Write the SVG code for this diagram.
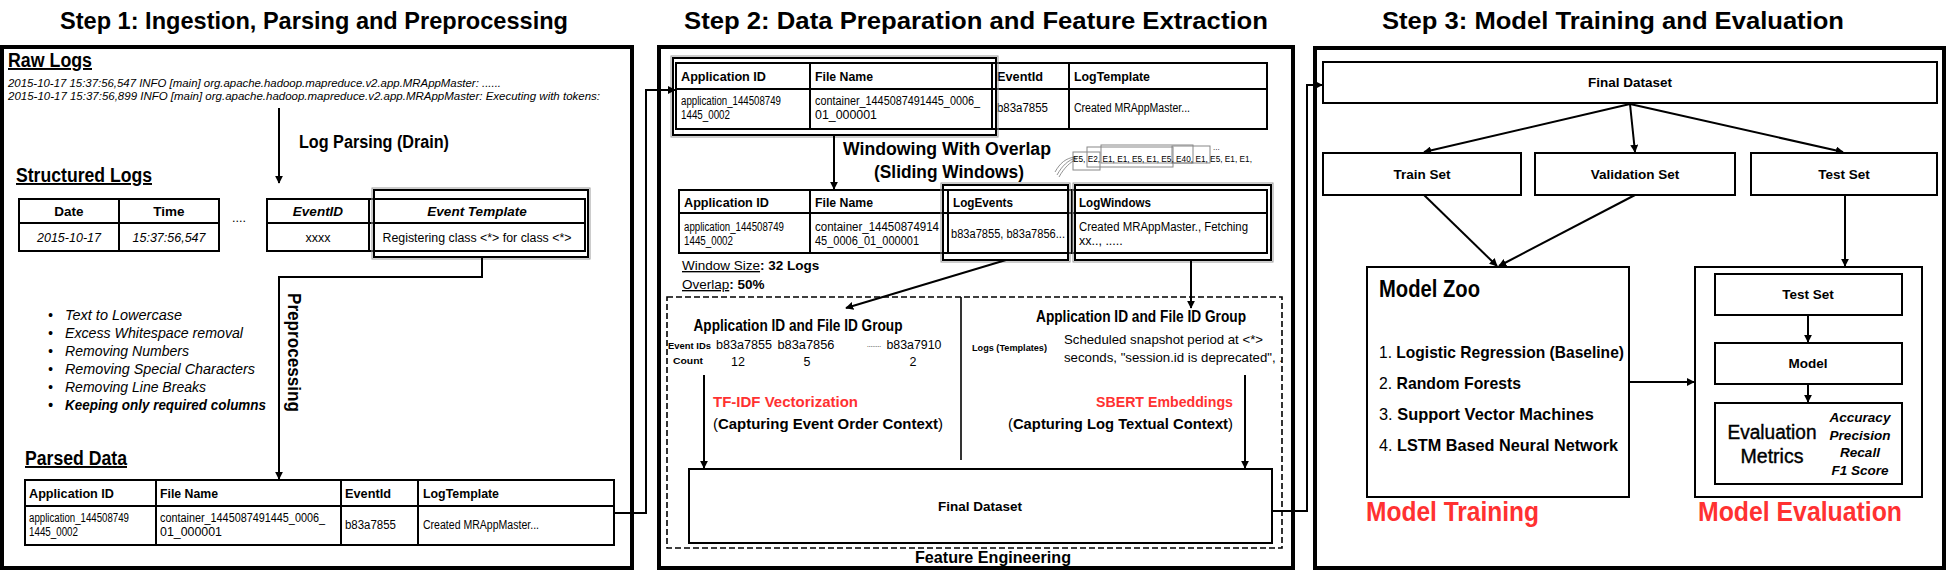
<svg xmlns="http://www.w3.org/2000/svg" width="1947" height="573" viewBox="0 0 1947 573">
<defs>
<marker id="ah" viewBox="0 0 10 10" refX="9" refY="5" markerWidth="8" markerHeight="8" markerUnits="userSpaceOnUse" orient="auto"><path d="M0,0 L10,5 L0,10 z" fill="#000"/></marker>
<style>
text{font-family:"Liberation Sans",Arial,sans-serif;fill:#000}
.frame{fill:#fff;stroke:#000;stroke-width:4}
.box{fill:#fff;stroke:#000;stroke-width:2}
.ov{fill:none;stroke:#000;stroke-width:2}
.ovg{fill:none;stroke:#9a9a9a;stroke-width:1}
.ln{fill:none;stroke:#000;stroke-width:2}
.conn{fill:none;stroke:#000;stroke-width:2}
.thin{fill:none;stroke:#000;stroke-width:1.6}
.dash{fill:none;stroke:#000;stroke-width:1.6;stroke-dasharray:6 3}
.gbox{fill:none;stroke:#888;stroke-width:1}
.title{font-size:24px;font-weight:bold}
.sec{font-size:19.5px;font-weight:bold;text-decoration:underline}
.log{font-size:10.5px;font-style:italic}
.lbl{font-size:18px;font-weight:bold}
.th{font-size:13px;font-weight:bold}
.td{font-size:12.5px}
.bul{font-size:14px;font-style:italic}
.b{font-weight:bold}
.n{font-weight:normal}
.red{fill:#ff3131}
.grp{font-size:16px;font-weight:bold}
.tiny{font-size:8.5px;font-weight:bold}
.sm{font-size:12.5px}
.ctx{font-size:15px;font-weight:bold}
.bt{font-size:13.5px;font-weight:bold}
.item{font-size:17px}
.big{font-size:27px;font-weight:bold}
.met{font-size:13.5px;font-weight:bold;font-style:italic}
</style>
</defs>
<rect x="0" y="0" width="1947" height="573" fill="#fff"/>

<!-- Titles -->
<g id="titles">
<text class="title" x="314" y="29" text-anchor="middle" textLength="508" lengthAdjust="spacingAndGlyphs">Step 1: Ingestion, Parsing and Preprocessing</text>
<text class="title" x="976" y="29" text-anchor="middle" textLength="584" lengthAdjust="spacingAndGlyphs">Step 2:  Data Preparation and Feature Extraction</text>
<text class="title" x="1613" y="29" text-anchor="middle" textLength="462" lengthAdjust="spacingAndGlyphs">Step 3:  Model Training and Evaluation</text>
</g>

<!-- Step frames -->
<g id="step1-frame"><rect class="frame" x="2" y="47" width="630" height="521"/></g>
<g id="step2-frame"><rect class="frame" x="659" y="47" width="634" height="521"/></g>
<g id="step3-frame"><rect class="frame" x="1315" y="48" width="629" height="520"/></g>

<!-- STEP 1 -->
<g id="raw-logs">
<text class="sec" x="8" y="67" textLength="84" lengthAdjust="spacingAndGlyphs">Raw Logs</text>
<text class="log" x="8" y="87" textLength="493" lengthAdjust="spacingAndGlyphs">2015-10-17 15:37:56,547 INFO [main] org.apache.hadoop.mapreduce.v2.app.MRAppMaster: ......</text>
<text class="log" x="8" y="100" textLength="592" lengthAdjust="spacingAndGlyphs">2015-10-17 15:37:56,899 INFO [main] org.apache.hadoop.mapreduce.v2.app.MRAppMaster: Executing with tokens:</text>
</g>
<g id="log-parsing-label">
<text class="lbl" x="299" y="148" textLength="150" lengthAdjust="spacingAndGlyphs">Log Parsing (Drain)</text>
</g>
<g id="structured-logs">
<text class="sec" x="16" y="182" textLength="136" lengthAdjust="spacingAndGlyphs">Structured Logs</text>
<rect class="box" x="19" y="199" width="200" height="52"/>
<line class="ln" x1="19" y1="223" x2="219" y2="223"/>
<line class="ln" x1="119" y1="199" x2="119" y2="251"/>
<text class="bt" x="69" y="216" text-anchor="middle" font-size="14">Date</text>
<text class="bt" x="169" y="216" text-anchor="middle" font-size="14">Time</text>
<text class="sm" x="69" y="242" text-anchor="middle" font-style="italic">2015-10-17</text>
<text class="sm" x="169" y="242" text-anchor="middle" font-style="italic">15:37:56,547</text>
<text class="sm" x="232" y="222">....</text>
<rect class="box" x="267" y="199" width="318" height="52"/>
<line class="ln" x1="267" y1="223" x2="585" y2="223"/>
<line class="ln" x1="369" y1="199" x2="369" y2="251"/>
<text class="bt" x="318" y="216" text-anchor="middle" font-style="italic" font-size="14">EventID</text>
<text class="bt" x="477" y="216" text-anchor="middle" font-style="italic" font-size="14">Event Template</text>
<text class="sm" x="318" y="242" text-anchor="middle">xxxx</text>
<text class="sm" x="477" y="242" text-anchor="middle" textLength="189" lengthAdjust="spacingAndGlyphs">Registering class &lt;*&gt; for class &lt;*&gt;</text>
<rect class="ovg" x="372" y="188" width="218" height="71"/>
<rect class="ov" x="374" y="190" width="214" height="67"/>
</g>
<g id="preprocessing-label">
<text class="lbl" transform="translate(288,293) rotate(90)" x="0" y="0" textLength="119" lengthAdjust="spacingAndGlyphs">Preprocessing</text>
</g>
<g id="preprocessing-steps">
<text class="bul" x="48" y="320">•</text><text class="bul" x="65" y="320" textLength="117" lengthAdjust="spacingAndGlyphs">Text to Lowercase</text>
<text class="bul" x="48" y="338">•</text><text class="bul" x="65" y="338" textLength="178" lengthAdjust="spacingAndGlyphs">Excess Whitespace removal</text>
<text class="bul" x="48" y="356">•</text><text class="bul" x="65" y="356" textLength="124" lengthAdjust="spacingAndGlyphs">Removing Numbers</text>
<text class="bul" x="48" y="374">•</text><text class="bul" x="65" y="374" textLength="190" lengthAdjust="spacingAndGlyphs">Removing Special Characters</text>
<text class="bul" x="48" y="392">•</text><text class="bul" x="65" y="392" textLength="141" lengthAdjust="spacingAndGlyphs">Removing Line Breaks</text>
<text class="bul b" x="48" y="410">•</text><text class="bul b" x="65" y="410" textLength="201" lengthAdjust="spacingAndGlyphs">Keeping only required columns</text>
</g>
<g id="parsed-data">
<text class="sec" x="25" y="465" textLength="102" lengthAdjust="spacingAndGlyphs">Parsed Data</text>
<rect class="box" x="25" y="480" width="589" height="65"/>
<line class="ln" x1="25" y1="506" x2="614" y2="506"/>
<line class="ln" x1="156" y1="480" x2="156" y2="545"/>
<line class="ln" x1="341" y1="480" x2="341" y2="545"/>
<line class="ln" x1="418" y1="480" x2="418" y2="545"/>
<text class="th" x="29" y="498" textLength="85" lengthAdjust="spacingAndGlyphs">Application ID</text>
<text class="th" x="160" y="498" textLength="58" lengthAdjust="spacingAndGlyphs">File Name</text>
<text class="th" x="345" y="498" textLength="46" lengthAdjust="spacingAndGlyphs">EventId</text>
<text class="th" x="423" y="498" textLength="76" lengthAdjust="spacingAndGlyphs">LogTemplate</text>
<text class="td" x="29" y="522" textLength="100" lengthAdjust="spacingAndGlyphs">application_144508749</text>
<text class="td" x="29" y="536" textLength="49" lengthAdjust="spacingAndGlyphs">1445_0002</text>
<text class="td" x="160" y="522" textLength="165" lengthAdjust="spacingAndGlyphs">container_1445087491445_0006_</text>
<text class="td" x="160" y="536" textLength="62" lengthAdjust="spacingAndGlyphs">01_000001</text>
<text class="td" x="345" y="529" textLength="51" lengthAdjust="spacingAndGlyphs">b83a7855</text>
<text class="td" x="423" y="529" textLength="116" lengthAdjust="spacingAndGlyphs">Created MRAppMaster...</text>
</g>

<!-- STEP 2 -->
<g id="table-a">
<rect class="box" x="676" y="63" width="591" height="66"/>
<line class="ln" x1="676" y1="89" x2="1267" y2="89"/>
<line class="ln" x1="810" y1="63" x2="810" y2="129"/>
<line class="ln" x1="992" y1="63" x2="992" y2="129"/>
<line class="ln" x1="1069" y1="63" x2="1069" y2="129"/>
<text class="th" x="681" y="81" textLength="85" lengthAdjust="spacingAndGlyphs">Application ID</text>
<text class="th" x="815" y="81" textLength="58" lengthAdjust="spacingAndGlyphs">File Name</text>
<text class="th" x="997" y="81" textLength="46" lengthAdjust="spacingAndGlyphs">EventId</text>
<text class="th" x="1074" y="81" textLength="76" lengthAdjust="spacingAndGlyphs">LogTemplate</text>
<text class="td" x="681" y="105" textLength="100" lengthAdjust="spacingAndGlyphs">application_144508749</text>
<text class="td" x="681" y="119" textLength="49" lengthAdjust="spacingAndGlyphs">1445_0002</text>
<text class="td" x="815" y="105" textLength="165" lengthAdjust="spacingAndGlyphs">container_1445087491445_0006_</text>
<text class="td" x="815" y="119" textLength="62" lengthAdjust="spacingAndGlyphs">01_000001</text>
<text class="td" x="997" y="112" textLength="51" lengthAdjust="spacingAndGlyphs">b83a7855</text>
<text class="td" x="1074" y="112" textLength="116" lengthAdjust="spacingAndGlyphs">Created MRAppMaster...</text>
<rect class="ovg" x="671" y="56" width="327" height="81"/>
<rect class="ov" x="673" y="58" width="323" height="77"/>
</g>
<g id="windowing-label">
<text class="lbl" x="947" y="155" text-anchor="middle" font-size="20" textLength="208" lengthAdjust="spacingAndGlyphs">Windowing With Overlap</text>
<text class="lbl" x="949" y="178" text-anchor="middle" font-size="20" textLength="150" lengthAdjust="spacingAndGlyphs">(Sliding Windows)</text>
</g>
<g id="sliding-windows">
<rect class="gbox" x="1073" y="152" width="27" height="18"/>
<rect class="gbox" x="1087" y="147" width="86" height="20"/>
<rect class="gbox" x="1101" y="145" width="92" height="18"/>
<rect class="gbox" x="1172" y="146" width="38" height="17"/>
<path d="M1055,172 C1060,163 1066,158 1075,157 M1057,175 C1062,166 1068,160 1076,158 M1059,177 C1064,168 1070,162 1077,159" fill="none" stroke="#777" stroke-width="0.8"/>
<text x="1073" y="162" font-size="9" fill="#333" textLength="179" lengthAdjust="spacingAndGlyphs">E5, E2, E1, E1, E5, E1, E5, E40, E1, E5, E1, E1,</text>
<text x="1213" y="150" font-size="8" fill="#333">...</text>
</g>
<g id="table-b">
<rect class="box" x="679" y="190" width="588" height="63"/>
<line class="ln" x1="679" y1="213" x2="1267" y2="213"/>
<line class="ln" x1="810" y1="190" x2="810" y2="253"/>
<line class="ln" x1="948" y1="190" x2="948" y2="253"/>
<line class="ln" x1="1072" y1="190" x2="1072" y2="253"/>
<text class="th" x="684" y="207" textLength="85" lengthAdjust="spacingAndGlyphs">Application ID</text>
<text class="th" x="815" y="207" textLength="58" lengthAdjust="spacingAndGlyphs">File Name</text>
<text class="th" x="953" y="207" textLength="60" lengthAdjust="spacingAndGlyphs">LogEvents</text>
<text class="th" x="1079" y="207" textLength="72" lengthAdjust="spacingAndGlyphs">LogWindows</text>
<text class="td" x="684" y="231" textLength="100" lengthAdjust="spacingAndGlyphs">application_144508749</text>
<text class="td" x="684" y="245" textLength="49" lengthAdjust="spacingAndGlyphs">1445_0002</text>
<text class="td" x="815" y="231" textLength="124" lengthAdjust="spacingAndGlyphs">container_14450874914</text>
<text class="td" x="815" y="245" textLength="104" lengthAdjust="spacingAndGlyphs">45_0006_01_000001</text>
<text class="td" x="951" y="238" textLength="114" lengthAdjust="spacingAndGlyphs">b83a7855, b83a7856...</text>
<text class="td" x="1079" y="231" textLength="169" lengthAdjust="spacingAndGlyphs">Created MRAppMaster., Fetching</text>
<text class="td" x="1079" y="245">xx.., .....</text>
<rect class="ovg" x="941" y="183" width="129" height="79"/>
<rect class="ov" x="943" y="185" width="125" height="75"/>
<rect class="ovg" x="1073" y="183" width="200" height="79"/>
<rect class="ov" x="1075" y="185" width="196" height="75"/>
</g>
<g id="window-params">
<text x="682" y="270" font-size="13.5"><tspan text-decoration="underline">Window Size</tspan><tspan class="b">: 32 Logs</tspan></text>
<text x="682" y="289" font-size="13.5"><tspan text-decoration="underline">Overlap</tspan><tspan class="b">: 50%</tspan></text>
</g>
<g id="feature-engineering">
<rect class="dash" x="667" y="297" width="615" height="251"/>
<line class="thin" x1="961" y1="297" x2="961" y2="460"/>
<text x="993" y="563" text-anchor="middle" font-size="17" font-weight="bold" textLength="156" lengthAdjust="spacingAndGlyphs">Feature Engineering</text>
</g>
<g id="event-group">
<text class="grp" x="798" y="331" text-anchor="middle" textLength="209" lengthAdjust="spacingAndGlyphs">Application ID and File ID Group</text>
<text class="tiny" x="668" y="349" textLength="43" lengthAdjust="spacingAndGlyphs">Event IDs</text>
<text class="tiny" x="673" y="364" textLength="30" lengthAdjust="spacingAndGlyphs">Count</text>
<text class="sm" x="744" y="349" text-anchor="middle" textLength="56" lengthAdjust="spacingAndGlyphs">b83a7855</text>
<text class="sm" x="806" y="349" text-anchor="middle" textLength="57" lengthAdjust="spacingAndGlyphs">b83a7856</text>
<text x="867" y="347" font-size="7" textLength="14" lengthAdjust="spacingAndGlyphs">........</text>
<text class="sm" x="914" y="349" text-anchor="middle" textLength="55" lengthAdjust="spacingAndGlyphs">b83a7910</text>
<text class="sm" x="738" y="366" text-anchor="middle">12</text>
<text class="sm" x="807" y="366" text-anchor="middle">5</text>
<text class="sm" x="913" y="366" text-anchor="middle">2</text>
<text class="ctx red" x="713" y="407" textLength="145" lengthAdjust="spacingAndGlyphs">TF-IDF Vectorization</text>
<text class="ctx" x="713" y="429" textLength="230" lengthAdjust="spacingAndGlyphs"><tspan class="n">(</tspan>Capturing Event Order Context<tspan class="n">)</tspan></text>
</g>
<g id="log-group">
<text class="grp" x="1141" y="322" text-anchor="middle" textLength="210" lengthAdjust="spacingAndGlyphs">Application ID and File ID Group</text>
<text class="tiny" x="972" y="351" textLength="75" lengthAdjust="spacingAndGlyphs">Logs (Templates)</text>
<text x="1064" y="344" font-size="13" textLength="199" lengthAdjust="spacingAndGlyphs">Scheduled snapshot period at &lt;*&gt;</text>
<text x="1064" y="362" font-size="13" textLength="219" lengthAdjust="spacingAndGlyphs">seconds, "session.id is deprecated", .</text>
<text class="ctx red" x="1233" y="407" text-anchor="end" textLength="137" lengthAdjust="spacingAndGlyphs">SBERT Embeddings</text>
<text class="ctx" x="1233" y="429" text-anchor="end" textLength="225" lengthAdjust="spacingAndGlyphs"><tspan class="n">(</tspan>Capturing Log Textual Context<tspan class="n">)</tspan></text>
</g>
<g id="final-dataset-2">
<rect class="box" x="689" y="469" width="583" height="74"/>
<text class="bt" x="980" y="511" text-anchor="middle">Final Dataset</text>
</g>

<!-- STEP 3 -->
<g id="final-dataset-3">
<rect class="box" x="1323" y="62" width="614" height="41"/>
<text class="bt" x="1630" y="87" text-anchor="middle">Final Dataset</text>
</g>
<g id="train-set"><rect class="box" x="1323" y="153" width="198" height="42"/><text class="bt" x="1422" y="179" text-anchor="middle">Train Set</text></g>
<g id="validation-set"><rect class="box" x="1535" y="153" width="200" height="42"/><text class="bt" x="1635" y="179" text-anchor="middle">Validation Set</text></g>
<g id="test-set"><rect class="box" x="1751" y="153" width="186" height="42"/><text class="bt" x="1844" y="179" text-anchor="middle">Test Set</text></g>
<g id="model-zoo">
<rect class="box" x="1367" y="267" width="262" height="230"/>
<text x="1379" y="297" font-size="23" font-weight="bold" textLength="101" lengthAdjust="spacingAndGlyphs">Model Zoo</text>
<text class="item" x="1379" y="358" textLength="245" lengthAdjust="spacingAndGlyphs">1. <tspan class="b">Logistic Regression (Baseline)</tspan></text>
<text class="item" x="1379" y="389" textLength="142" lengthAdjust="spacingAndGlyphs">2. <tspan class="b">Random Forests</tspan></text>
<text class="item" x="1379" y="420" textLength="215" lengthAdjust="spacingAndGlyphs">3. <tspan class="b">Support Vector Machines</tspan></text>
<text class="item" x="1379" y="451" textLength="239" lengthAdjust="spacingAndGlyphs">4. <tspan class="b">LSTM Based Neural Network</tspan></text>
<text class="big red" x="1366" y="521" textLength="173" lengthAdjust="spacingAndGlyphs">Model Training</text>
</g>
<g id="model-evaluation">
<rect class="box" x="1695" y="267" width="227" height="230"/>
<text class="big red" x="1698" y="521" textLength="204" lengthAdjust="spacingAndGlyphs">Model Evaluation</text>
</g>
<g id="eval-test-set"><rect class="box" x="1715" y="274" width="187" height="41"/><text class="bt" x="1808" y="299" text-anchor="middle">Test Set</text></g>
<g id="eval-model"><rect class="box" x="1715" y="343" width="187" height="41"/><text class="bt" x="1808" y="368" text-anchor="middle">Model</text></g>
<g id="eval-metrics">
<rect class="box" x="1715" y="403" width="187" height="81"/>
<text x="1772" y="439" text-anchor="middle" font-size="20" textLength="89" lengthAdjust="spacingAndGlyphs" stroke="#000" stroke-width="0.4">Evaluation</text>
<text x="1772" y="463" text-anchor="middle" font-size="20" textLength="63" lengthAdjust="spacingAndGlyphs" stroke="#000" stroke-width="0.4">Metrics</text>
<text class="met" x="1860" y="422" text-anchor="middle">Accuracy</text>
<text class="met" x="1860" y="440" text-anchor="middle">Precision</text>
<text class="met" x="1860" y="457" text-anchor="middle">Recall</text>
<text class="met" x="1860" y="475" text-anchor="middle">F1 Score</text>
</g>

<!-- Connectors -->
<g id="connectors">
<path class="conn" d="M279,108 V183" marker-end="url(#ah)"/>
<path class="conn" d="M482,257 V277 H279 V479" marker-end="url(#ah)"/>
<path class="conn" d="M614,513 H646 V90 H675" marker-end="url(#ah)"/>
<path class="conn" d="M834,135 V189" marker-end="url(#ah)"/>
<path class="conn" d="M1006,260 L846,308" marker-end="url(#ah)"/>
<path class="conn" d="M1191,260 V308" marker-end="url(#ah)"/>
<path class="conn" d="M704,375 V468" marker-end="url(#ah)"/>
<path class="conn" d="M1245,375 V468" marker-end="url(#ah)"/>
<path class="conn" d="M1272,511 H1307 V85 H1322" marker-end="url(#ah)"/>
<path class="conn" d="M1630,104 L1424,152" marker-end="url(#ah)"/>
<path class="conn" d="M1630,104 L1635,152" marker-end="url(#ah)"/>
<path class="conn" d="M1630,104 L1843,152" marker-end="url(#ah)"/>
<path class="conn" d="M1424,195 L1497,266" marker-end="url(#ah)"/>
<path class="conn" d="M1635,195 L1499,266" marker-end="url(#ah)"/>
<path class="conn" d="M1845,195 V266" marker-end="url(#ah)"/>
<path class="conn" d="M1629,382 H1694" marker-end="url(#ah)"/>
<path class="conn" d="M1808,315 V342" marker-end="url(#ah)"/>
<path class="conn" d="M1808,384 V402" marker-end="url(#ah)"/>
</g>
</svg>
